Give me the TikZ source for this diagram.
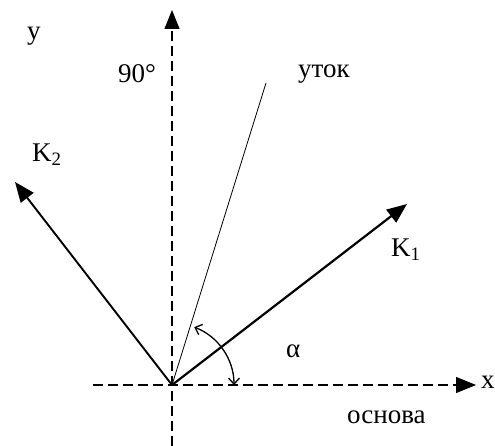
\documentclass[tikz,border=0pt]{standalone}
\usepackage{fontspec}
\setmainfont{Liberation Serif}
\usetikzlibrary{arrows.meta}
\begin{document}
\begin{tikzpicture}[x=1pt,y=-1pt,
  axis/.style={line width=1.2pt,dash pattern=on 10pt off 5pt},
  vec/.style={line width=2.2pt,-{Triangle[length=20pt,width=16pt]}},
  lbl/.style={inner sep=0pt,anchor=base west,font=\fontsize{27}{30}\selectfont},
  anglearrow/.style={line width=1.3pt,{Straight Barb[length=6pt,width=11pt]}-{Straight Barb[length=6pt,width=11pt]}}]
\useasboundingbox (0,0) rectangle (495,446);
\coordinate (O) at (172,385);
\coordinate (ytop) at (172,10);
\coordinate (ybot) at (172,446);
\coordinate (xleft) at (93,385);
\coordinate (xright) at (476,385);
\coordinate (k1) at (407,204);
\coordinate (k2) at (15,182);
\coordinate (wt) at (266,83);
% axes
\draw[axis] (ybot) -- (172,30);
\draw[axis] (xleft) -- (456,385);
\draw[-{Triangle[length=19pt,width=15pt]},line width=1.2pt] (172,28) -- (ytop);
\draw[-{Triangle[length=20pt,width=16pt]},line width=1.2pt] (456,385) -- (xright);
% weft line
\draw[line width=0.8pt] (O) -- (wt);
% vectors
\draw[vec] (O) -- (k1);
\draw[vec,line width=1.9pt] (O) -- (k2);
% angle
\draw[anglearrow] (234,385) arc[start angle=0,end angle=-69,radius=62];
% labels
\node[lbl] (ly) at (27,40) {y};
\node[lbl] (l90) at (118,83) {90°};
\node[lbl] (lwt) at (298,78) {уток};
\node[lbl] (lk2) at (32,162) {K\textsubscript{2}};
\node[lbl] (lk1) at (391,257) {K\textsubscript{1}};
\node[lbl] (la) at (286,357) {α};
\node[lbl] (lx) at (481,388) {х};
\node[lbl] (lbase) at (347,423) {основа};
\end{tikzpicture}
\end{document}
